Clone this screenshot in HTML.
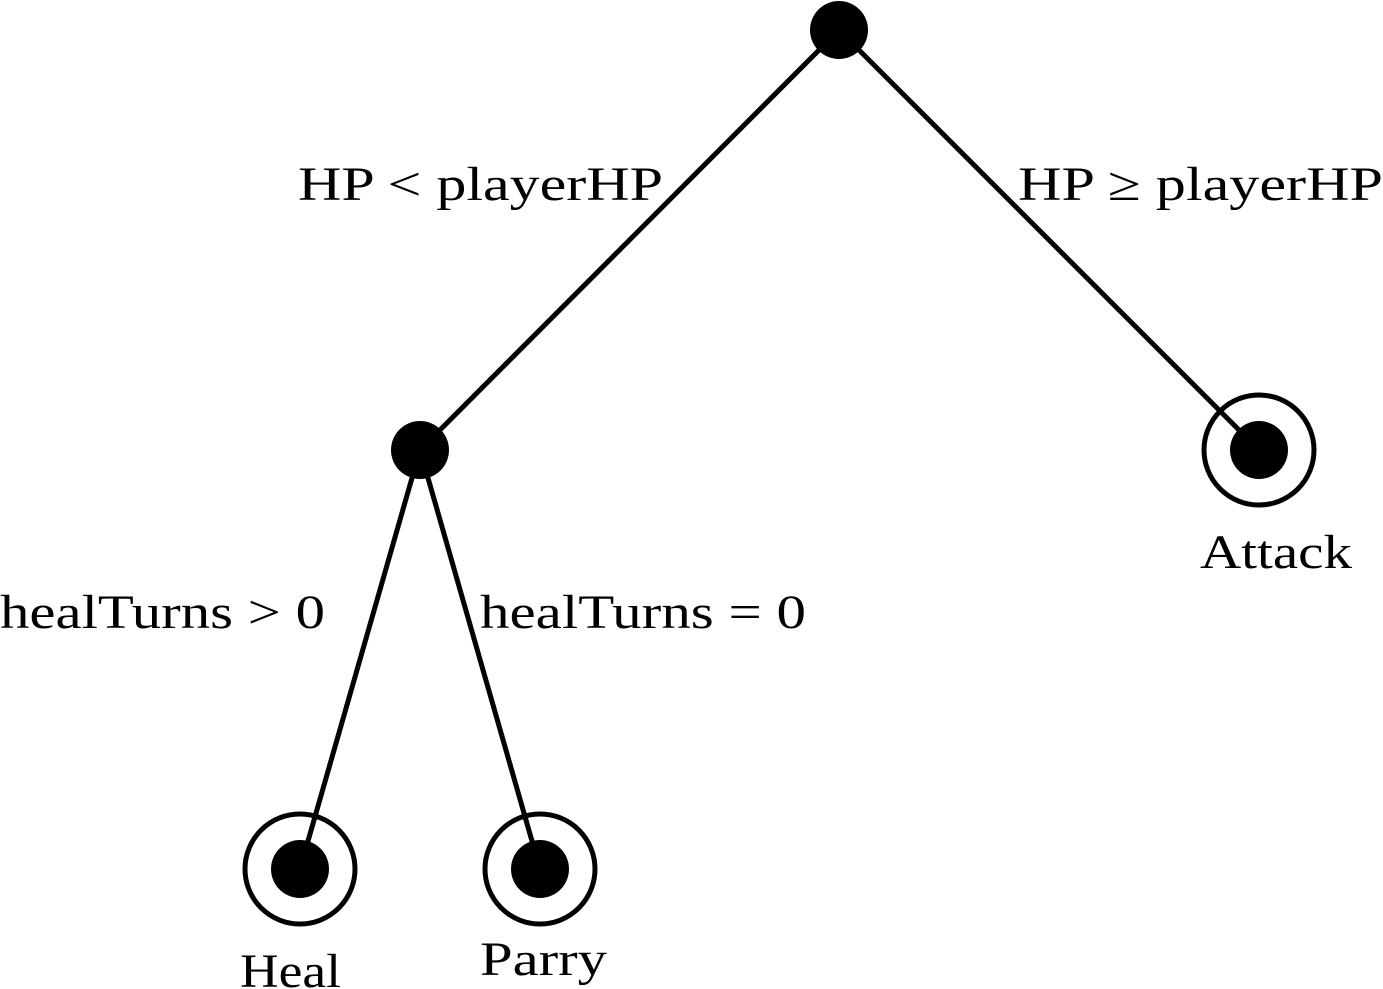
<!DOCTYPE html>
<html><head><meta charset="utf-8"><style>
html,body{margin:0;padding:0;background:#fff;}
svg{display:block;}
text{font-family:"Liberation Serif",serif;font-size:48px;fill:#000;}
</style></head><body>
<svg width="1383" height="989" viewBox="0 0 1383 989" xmlns="http://www.w3.org/2000/svg">
<g stroke="#000" stroke-width="5" fill="none">
<line x1="839" y1="30" x2="420" y2="450"/>
<line x1="839" y1="30" x2="1259" y2="450"/>
<line x1="420" y1="450" x2="300" y2="869"/>
<line x1="420" y1="450" x2="540" y2="869"/>
<circle cx="1259" cy="450" r="55"/>
<circle cx="300" cy="869" r="55"/>
<circle cx="540" cy="869" r="55"/>
</g>
<g fill="#000">
<circle cx="839" cy="30" r="29"/>
<circle cx="420" cy="450" r="29"/>
<circle cx="1259" cy="450" r="29"/>
<circle cx="300" cy="869" r="29"/>
<circle cx="540" cy="869" r="29"/>
</g>
<text x="298" y="200" textLength="365" lengthAdjust="spacingAndGlyphs">HP &lt; playerHP</text>
<text x="1018" y="200" textLength="365" lengthAdjust="spacingAndGlyphs">HP ≥ playerHP</text>
<text x="1200" y="568" textLength="152" lengthAdjust="spacingAndGlyphs">Attack</text>
<text x="0" y="628" textLength="325" lengthAdjust="spacingAndGlyphs">healTurns &gt; 0</text>
<text x="480" y="628" textLength="326" lengthAdjust="spacingAndGlyphs">healTurns = 0</text>
<text x="240" y="987" textLength="101" lengthAdjust="spacingAndGlyphs">Heal</text>
<text x="480" y="975" textLength="127" lengthAdjust="spacingAndGlyphs">Parry</text>
</svg>
</body></html>
